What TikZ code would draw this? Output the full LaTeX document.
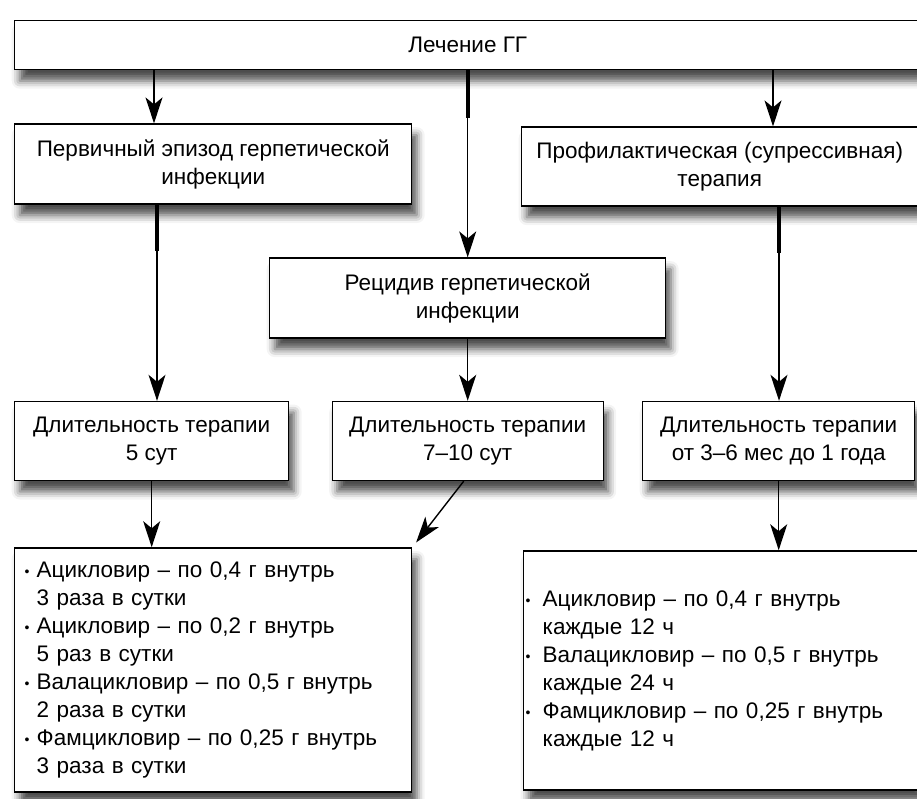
\documentclass[tikz,border=0pt]{standalone}
\usepackage{fontspec}
\setmainfont{Liberation Sans}
\usetikzlibrary{positioning, arrows.meta, shadows.blur}

\newcommand{\bul}[1][12pt]{\makebox[#1][l]{\raisebox{1pt}{\fontsize{14}{14}\selectfont •}}}
\newcommand{\cont}[1][12pt]{\hspace*{#1}}

\begin{document}
\begin{tikzpicture}[
        font=\fontsize{22.5}{28}\selectfont,
        box/.style={draw, rectangle, line width=1.4pt, align=center, inner sep=0pt, fill=white,
            blur shadow={shadow xshift=5pt, shadow yshift=-11pt, shadow blur radius=8pt, shadow opacity=70}},
        listbox/.style={box, align=left, inner ysep=0pt},
        arrow/.style={-{Stealth[length=26pt, width=17pt, inset=7pt]}, line width=1.4pt},
        stub/.style={line width=4pt}
    ]
    \useasboundingbox (0,0) rectangle (917pt,-798pt);

    \node[box, anchor=north west, minimum width=906pt, minimum height=49pt] (top) at (14pt,-20pt) {Лечение ГГ};
    \node[box, minimum width=397pt, minimum height=80pt, below right=53pt and 0pt of top.south west] (prim) {Первичный эпизод герпетической\\инфекции};
    \node[box, minimum width=396pt, minimum height=80pt, below=187pt of top.south] (rec) {Рецидив герпетической\\инфекции};
    \node[box, minimum width=396pt, minimum height=79pt, below left=56pt and 3pt of top.south east] (prof) {Профилактическая (супрессивная)\\терапия};

    \node[box, minimum width=274pt, minimum height=79pt, below right=196pt and 0pt of prim.south west] (dur1) {Длительность терапии\\5 сут};
    \node[box, minimum width=271pt, minimum height=79pt, below=62pt of rec.south] (dur2) {Длительность терапии\\7--10 сут};
    \node[box, minimum width=272pt, minimum height=79pt, below left=194pt and 3pt of prof.south east] (dur3) {Длительность терапии\\от 3--6 мес до 1 года};

    \node[listbox, text width=377pt, inner xsep=10pt, minimum height=244pt, below right=66pt and 0pt of dur1.south west] (drugs1) {%
        \bul Ацикловир -- по 0,4 г внутрь\\
        \cont 3 раза в сутки\\
        \bul Ацикловир -- по 0,2 г внутрь\\
        \cont 5 раз в сутки\\
        \bul Валацикловир -- по 0,5 г внутрь\\
        \cont 2 раза в сутки\\
        \bul Фамцикловир -- по 0,25 г внутрь\\
        \cont 3 раза в сутки};
    \node[listbox, text width=390pt, inner xsep=2pt, minimum height=239pt, below left=69pt and -3pt of dur3.south east] (drugs2) {%
        \bul[17pt]Ацикловир -- по 0,4 г внутрь\\
        \cont[17pt]каждые 12 ч\\
        \bul[17pt]Валацикловир -- по 0,5 г внутрь\\
        \cont[17pt]каждые 24 ч\\
        \bul[17pt]Фамцикловир -- по 0,25 г внутрь\\
        \cont[17pt]каждые 12 ч};

    \coordinate (a1) at ([xshift=140pt]prim.north west);
    \coordinate (a2) at ([xshift=143pt]dur1.north west);
    \coordinate (a3) at ([xshift=252pt]prof.north west);
    \coordinate (a4) at ([xshift=137pt]dur3.north west);

    \draw[arrow] (top.south -| a1) -- (a1);
    \draw[arrow] (top.south) -- (rec.north);
    \draw[arrow] (top.south -| a3) -- (a3);
    \draw[arrow] (prim.south -| a2) -- (a2);
    \draw[arrow] (rec.south) -- (dur2.north);
    \draw[arrow] (prof.south -| a4) -- (a4);
    \draw[arrow] (dur1.south) -- (dur1.south |- drugs1.north);
    \draw[arrow, shorten >=6pt] ([xshift=-4pt]dur2.south) -- (drugs1.north east);
    \draw[arrow] (dur3.south) -- (dur3.south |- drugs2.north);

    \draw[stub] (top.south) -- ++(0,-48pt);
    \draw[stub] (prim.south -| a2) -- ++(0,-46pt);
    \draw[stub] (prof.south -| a4) -- ++(0,-46pt);
\end{tikzpicture}
\end{document}
